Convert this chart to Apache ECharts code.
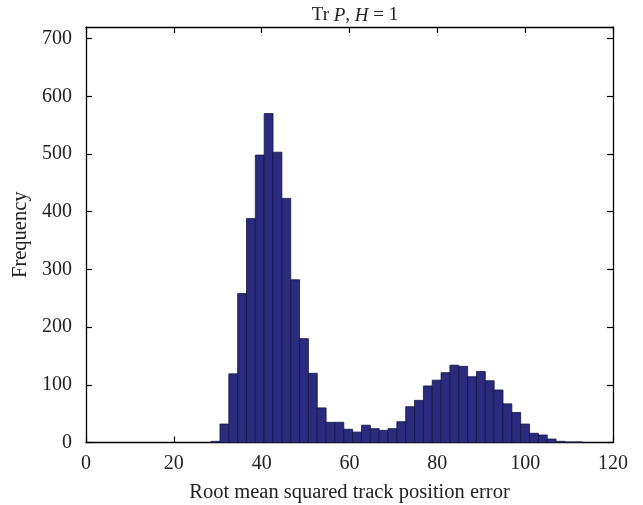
<!DOCTYPE html>
<html>
<head>
<meta charset="utf-8">
<script src="https://cdn.jsdelivr.net/npm/echarts@6/dist/echarts.min.js"></script>
<style>html,body{margin:0;padding:0;background:#fff}#c{width:643px;height:505px}</style>
</head>
<body>
<div id="c"></div>
<script>
// Histogram data (bin counts)
const binStart = 28.49;
const binWidth = 2.014;
const counts = [2, 32, 119, 258, 388, 498, 570, 503, 423, 282, 180, 120, 60, 35, 35, 23, 18, 30, 24, 21, 24, 36, 62, 73, 98, 108, 121, 134, 132, 114, 123, 107, 91, 67, 52, 32, 16, 13, 6, 2, 1, 1];
const xTicks = [0, 20, 40, 60, 80, 100, 120];
const yTicks = [0, 100, 200, 300, 400, 500, 600, 700];
const titleParts = ['Tr ', 'P', ', ', 'H', ' = 1'];
const xName = 'Root mean squared track position error';
const yName = 'Frequency';

const bins = counts.map((c, i) => [binStart + i * binWidth, binStart + (i + 1) * binWidth, c]);

const FONT = 'Liberation Serif';
const chart = echarts.init(document.getElementById('c'), null, {renderer: 'canvas'});
const axisCommon = {
  type: 'value',
  axisLine: {show: true, onZero: false, lineStyle: {color: '#000', width: 1.3}},
  axisTick: {show: true, inside: true, length: 6, lineStyle: {color: '#000', width: 1.2}},
  splitLine: {show: false},
  nameTextStyle: {fontFamily: FONT, fontSize: 20.5, color: '#222'}
};
chart.setOption({
  animation: false,
  backgroundColor: '#fff',
  title: {
    text: '{n|' + titleParts[0] + '}{i|' + titleParts[1] + '}{n|' + titleParts[2] + '}{i|' + titleParts[3] + '}{n|' + titleParts[4] + '}',
    left: 350, top: 1, textAlign: 'center',
    textStyle: {
      fontWeight: 'normal',
      rich: {
        n: {fontFamily: FONT, fontSize: 19, fontWeight: 'normal', color: '#222'},
        i: {fontFamily: FONT, fontSize: 19, fontWeight: 'normal', fontStyle: 'italic', color: '#222'}
      }
    }
  },
  grid: {left: 86, right: 30, top: 27, bottom: 62.5, containLabel: false, outerBoundsMode: 'none'},
  xAxis: [
    Object.assign({}, axisCommon, {
      position: 'bottom', min: 0, max: 120, interval: 20,
      name: xName, nameLocation: 'middle', nameGap: 40,
      axisLabel: {fontFamily: FONT, fontSize: 20, color: '#222', margin: 11,
        formatter: v => (xTicks.indexOf(v) >= 0 ? String(v) : '')}
    }),
    Object.assign({}, axisCommon, {
      position: 'top', min: 0, max: 120, interval: 20,
      axisLabel: {show: false}
    })
  ],
  yAxis: [
    Object.assign({}, axisCommon, {
      position: 'left', min: 0, max: 720, interval: 100,
      name: yName, nameLocation: 'middle', nameGap: 54, nameRotate: 90,
      axisLabel: {fontFamily: FONT, fontSize: 20, color: '#222', margin: 14, showMaxLabel: false,
        formatter: v => (yTicks.indexOf(v) >= 0 ? String(v) : '')}
    }),
    Object.assign({}, axisCommon, {
      position: 'right', min: 0, max: 720, interval: 100,
      axisLabel: {show: false}
    })
  ],
  series: [{
    type: 'custom',
    xAxisIndex: 0, yAxisIndex: 0,
    data: bins,
    encode: {x: [0, 1], y: 2},
    renderItem: function (params, api) {
      const p0 = api.coord([api.value(0), api.value(2)]);
      const p1 = api.coord([api.value(1), 0]);
      return {
        type: 'rect',
        shape: {x: p0[0], y: p0[1], width: p1[0] - p0[0], height: p1[1] - p0[1]},
        style: {fill: '#2a2b7e', stroke: '#15153f', lineWidth: 0.8}
      };
    }
  }]
});
</script>
</body>
</html>
